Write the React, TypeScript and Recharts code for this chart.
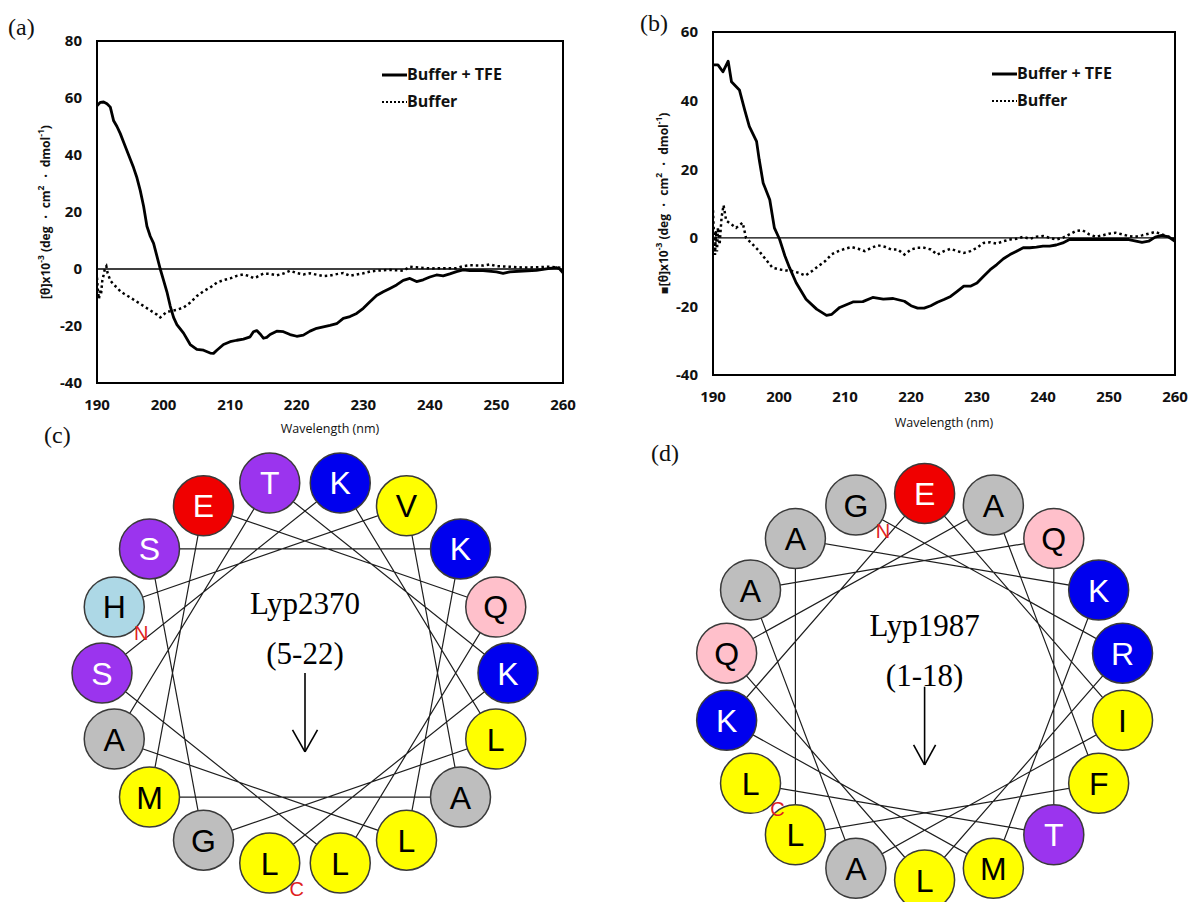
import React from 'react';
import {
  LineChart, Line, XAxis, YAxis, ReferenceLine, ReferenceArea, Legend, Label,
  ScatterChart, Scatter, ReferenceDot,
} from 'recharts';

// ---------------- Data: CD spectra ----------------
const wavelengthTicks = [190, 200, 210, 220, 230, 240, 250, 260];
const aYTicks = [-40, -20, 0, 20, 40, 60, 80];
const bYTicks = [-40, -20, 0, 20, 40, 60];
const seriesNames = ['Buffer + TFE', 'Buffer'];
const panelLetters = ['(a)', '(b)', '(c)', '(d)'];

// (a) Buffer + TFE
const aTfeWl = [190, 190.5, 191, 191.5, 192, 192.5, 193, 193.5, 194, 194.5, 195, 195.5, 196, 196.5, 197, 197.5, 198, 198.5, 199, 199.5, 200, 200.5, 201, 201.5, 202, 203, 204, 205, 206, 207, 207.5, 208, 209, 210, 211, 212, 213, 213.5, 214, 214.5, 215, 215.5, 216, 217, 218, 219, 220, 221, 222, 223, 224, 225, 226, 227, 228, 229, 230, 231, 232, 233, 234, 235, 236, 237, 238, 239, 240, 241, 242, 243, 244, 245, 246, 248, 250, 251, 252, 254, 256, 258, 259, 259.5, 260];
const aTfeTheta = [57.3, 58.5, 58.6, 58, 56.8, 52, 50, 47.5, 44.5, 41.5, 38.5, 35.5, 32, 27.5, 22, 15, 11.5, 9, 4.5, 0, -4, -8, -13, -17, -19.5, -22.5, -26.5, -28.2, -28.5, -29.5, -29.6, -28.5, -26.5, -25.5, -25, -24.6, -23.8, -22, -21.6, -22.8, -24.3, -24, -23, -21.8, -22, -23, -23.6, -23.2, -21.8, -20.8, -20.3, -19.8, -19.2, -17.3, -16.7, -15.6, -13.8, -11.5, -9.3, -8, -6.8, -5.6, -4, -3.3, -4.4, -3.8, -2.8, -2.1, -2.4, -1.7, -0.9, -0.3, -0.6, -0.6, -1, -1.5, -1, -0.7, -0.5, 0.2, 0.5, 0, -1.3];
// (a) Buffer
const aBufWl = [190, 190.15, 190.3, 190.45, 190.6, 190.8, 191, 191.2, 191.4, 191.6, 192, 192.5, 193, 193.5, 194, 195, 196, 197, 198, 199, 199.5, 200, 200.5, 201, 202, 203, 204, 205, 206, 207, 208, 209, 210, 211, 212, 213, 213.5, 214, 215, 216, 217, 218, 219, 220, 221, 222, 223, 224, 225, 226, 227, 228, 229, 230, 231, 232, 234, 236, 237, 238, 240, 242, 244, 245, 246, 248, 249, 250, 252, 254, 256, 258, 260];
const aBufTheta = [-3, -8, -10.5, -7, -9, -4, -2, 0.3, 1, -1.5, -4, -5.5, -6.5, -7.8, -8.6, -10, -11.5, -13, -14.5, -16, -17, -16, -15, -14.8, -14.3, -13.5, -11.8, -9.5, -7.8, -6.5, -4.8, -3.9, -3.3, -2.4, -1.9, -2.6, -3.2, -2.8, -1.6, -1.7, -2.2, -1.6, -0.6, -1.4, -1.9, -1.5, -2, -2.5, -2.3, -1.8, -1.4, -2.4, -1.9, -1.5, -0.9, -0.6, -0.3, -0.6, 0.8, 0.6, 0.2, 0.3, 0.3, 1, 1.3, 1.2, 1.6, 1, 0.8, 0.5, 0.6, 0.8, 0.3];

// (b) Buffer + TFE
const bTfeWl = [190, 190.75, 191.5, 192.3, 192.8, 194, 194.8, 195.5, 196.6, 197, 197.6, 198.6, 199.3, 200.1, 200.9, 201.6, 202.6, 204.1, 205.7, 207.2, 208, 209.2, 211.2, 212.7, 214.2, 215.8, 217.3, 219, 220, 221, 222, 223, 224, 225, 226, 227, 228, 229, 230, 231, 232, 233, 234, 235, 236, 237, 238, 239, 240, 241, 242, 243, 244, 245, 247, 249, 251, 253, 255, 256, 257, 258, 259, 260];
const bTfeTheta = [50.4, 50.4, 48.4, 51.5, 45.5, 43.1, 37.3, 32.5, 28.1, 22.8, 16, 11.1, 2.9, -0.5, -5.3, -8.7, -13.1, -17.9, -20.8, -22.6, -22.3, -20.3, -18.7, -18.6, -17.4, -17.9, -17.7, -18.5, -19.8, -20.5, -20.5, -19.8, -18.8, -18, -17.1, -15.6, -14.1, -14.1, -13.2, -11.2, -9.3, -7.8, -6.1, -4.9, -3.9, -2.9, -2.9, -2.7, -2.4, -2.4, -2.1, -1.5, -0.5, -0.5, -0.5, -0.5, -0.5, -0.5, -1.3, -1, 0.2, 0.7, 0.3, -1];
// (b) Buffer
const bBufWl = [190, 190.15, 190.3, 190.45, 190.6, 190.75, 191, 191.3, 191.6, 192, 192.8, 193.5, 194.5, 195, 196, 197, 198, 199, 200, 201, 202, 203, 204, 205, 206, 207, 208, 209, 210, 211, 212, 213, 214, 215, 216, 217, 218, 219, 220, 221, 222, 223, 224, 225, 226, 227, 228, 229, 230, 231, 232, 233, 234, 235, 236, 237, 238, 239, 240, 241, 242, 243, 244, 245, 246, 247, 248, 249, 250, 251, 252, 253, 254, 255, 256, 257, 258, 259, 260];
const bBufTheta = [8, 0, -5, 2, -4, 3, -2, 6, 9.5, 5, 3.9, 2.9, 4.4, 0, -1.9, -3.9, -6.3, -8.7, -9.2, -9.5, -9.7, -10.2, -11, -9.7, -8.2, -6.8, -4.8, -3.9, -3.2, -2.7, -3.2, -3.9, -2.9, -2.2, -2.6, -3.4, -3.4, -4.9, -3.4, -2.9, -2.9, -3.4, -4.9, -3.9, -3.2, -3.9, -4.4, -3.9, -2.9, -1.5, -1.3, -1.7, -1, -0.5, -0.3, 0.3, -0.3, 0.3, 0.5, 0, -0.5, 0, 1, 2, 2.2, 1, 0.3, 0.7, 1.2, 1.5, 1, 0.5, 0.3, 0.7, 1.2, 1.7, 1, 0.3, -0.5];

// ---------------- Data: helical wheels ----------------
const wheelCSequence = ['H', 'V', 'A', 'M', 'E', 'Q', 'L', 'S', 'K', 'L', 'G', 'S', 'K', 'L', 'A', 'T', 'K', 'L'];
const wheelCName = 'Lyp2370';
const wheelCRange = '(5-22)';
const wheelDSequence = ['G', 'R', 'L', 'Q', 'A', 'F', 'L', 'A', 'K', 'M', 'K', 'E', 'I', 'A', 'A', 'Q', 'T', 'L'];
const wheelDName = 'Lyp1987';
const wheelDRange = '(1-18)';
const terminusLabels = ['N', 'C'];

// ---------------- Styles ----------------
const SANS = "'Open Sans', 'DejaVu Sans', sans-serif";
const SERIF = "'Liberation Serif', 'DejaVu Serif', serif";
const ARIAL = "'Liberation Sans', Arial, sans-serif";
const residueStyle: Record<string, { fill: string; text: string }> = {
  S: { fill: '#9b34ee', text: '#ffffff' }, T: { fill: '#9b34ee', text: '#ffffff' },
  K: { fill: '#0000ee', text: '#ffffff' }, R: { fill: '#0000ee', text: '#ffffff' },
  E: { fill: '#f00000', text: '#ffffff' },
  H: { fill: '#add8e6', text: '#000000' },
  Q: { fill: '#ffc0cb', text: '#000000' },
  A: { fill: '#bebebe', text: '#000000' }, G: { fill: '#bebebe', text: '#000000' },
  L: { fill: '#ffff00', text: '#000000' }, V: { fill: '#ffff00', text: '#000000' },
  M: { fill: '#ffff00', text: '#000000' }, I: { fill: '#ffff00', text: '#000000' },
  F: { fill: '#ffff00', text: '#000000' },
};

const zip = (xs: number[], ys: number[]) => xs.map((x, i) => ({ x, y: ys[i] }));

const YTitle = ({ viewBox, dx, marker }: any) => {
  const x = viewBox.x + dx;
  const y = viewBox.y + viewBox.height / 2;
  const sup = { fontSize: 8.5 };
  return (
    <text x={x} y={y} transform={`rotate(-90 ${x} ${y})`} textAnchor="middle" dominantBaseline="central"
      fontFamily={SANS} fontWeight={700} fontSize={12} fill="#111">
      {marker ? '▪' : ''}[θ]x10<tspan dy={-5} {...sup}>-3</tspan><tspan dy={5}> (deg ・ cm</tspan>
      <tspan dy={-5} {...sup}>2</tspan><tspan dy={5}> ・ dmol</tspan><tspan dy={-5} {...sup}>-1</tspan>
      <tspan dy={5}>)</tspan>
    </text>
  );
};

const XTitle = ({ viewBox, dy }: any) => (
  <text x={viewBox.x + viewBox.width / 2} y={viewBox.y + dy} textAnchor="middle" dominantBaseline="central"
    fontFamily={SANS} fontSize={12.5} fill="#111">Wavelength (nm)</text>
);

const LegendBox = () => (
  <div style={{ fontFamily: SANS, fontWeight: 700, fontSize: 16, color: '#111', lineHeight: '27px' }}>
    {seriesNames.map((name, i) => (
      <div key={name} style={{ display: 'flex', alignItems: 'center', height: 27 }}>
        <svg width={25} height={6} style={{ display: 'block' }}>
          <line x1={0} x2={25} y1={3} y2={3} stroke="#000" strokeWidth={i === 0 ? 3 : 2.2}
            strokeDasharray={i === 0 ? undefined : '2 2'} />
        </svg>
        <span>{name}</span>
      </div>
    ))}
  </div>
);

const CDPanel = (p: any) => {
  const tfe = zip(p.tfeWl, p.tfeTheta);
  const buf = zip(p.bufWl, p.bufTheta);
  const tick = { fontSize: 15, fontFamily: SANS, fontWeight: 700, fill: '#111' };
  return (
    <div style={{ position: 'absolute', left: p.left, top: p.top }}>
      <LineChart width={p.width} height={p.height} margin={p.margin}>
        <XAxis type="number" dataKey="x" domain={[190, 260]} ticks={wavelengthTicks} allowDataOverflow
          axisLine={false} tickLine={false} tickSize={0} tickMargin={16} tick={tick} height={30} interval={0}>
          <Label content={(lp: any) => <XTitle viewBox={lp.viewBox} dy={p.xTitleDy} />} />
        </XAxis>
        <YAxis type="number" dataKey="y" domain={p.yDomain} ticks={p.yTicks} allowDataOverflow width={p.yAxisWidth}
          axisLine={false} tickLine={false} tickSize={0} tickMargin={15} tick={tick} interval={0}>
          <Label content={(lp: any) => <YTitle viewBox={lp.viewBox} dx={p.yTitleDx} marker={p.marker} />} />
        </YAxis>
        <ReferenceArea x1={190} x2={260} y1={p.yDomain[0]} y2={p.yDomain[1]} fill="none" fillOpacity={0}
          stroke="#000" strokeWidth={2} />
        <ReferenceLine y={0} stroke="#000" strokeWidth={1.3} />
        <Line data={buf} dataKey="y" name={seriesNames[1]} type="linear" stroke="#000" strokeWidth={2.5}
          strokeDasharray="2.5 3" dot={false} isAnimationActive={false} />
        <Line data={tfe} dataKey="y" name={seriesNames[0]} type="linear" stroke="#000" strokeWidth={2.8}
          dot={false} isAnimationActive={false} strokeLinejoin="round" />
        <Legend layout="vertical" align="center" verticalAlign="middle" content={() => <LegendBox />}
          wrapperStyle={{ position: 'absolute', left: p.legendLeft, top: p.legendTop, width: 170, height: 54 }} />
      </LineChart>
    </div>
  );
};

const residueStep = 100;

const WheelPanel = (p: any) => {
  const pts = p.sequence.map((aa: string, i: number) => {
    const ang = ((p.startAngle + residueStep * i) * Math.PI) / 180;
    return { x: Math.sin(ang), y: Math.cos(ang), aa, i };
  });
  const ends = [
    { ...pts[0], tag: terminusLabels[0] },
    { ...pts[pts.length - 1], tag: terminusLabels[1] },
  ];
  const xDomain = [-p.cx / p.rx, (p.width - p.cx) / p.rx];
  const yDomain = [-(p.height - p.cy) / p.ry, p.cy / p.ry];
  const R = 30;
  const ResidueShape = (s: any) => {
    const st = residueStyle[s.payload.aa];
    return (
      <g>
        <circle cx={s.cx} cy={s.cy} r={R} fill={st.fill} stroke="#3a3a3a" strokeWidth={1.5} />
        <text x={s.cx} y={s.cy + 11.5} textAnchor="middle" fontFamily={ARIAL} fontSize={32} fill={st.text}>
          {s.payload.aa}
        </text>
      </g>
    );
  };
  const TagShape = (s: any) => (
    <text x={s.cx + 27} y={s.cy + 33} textAnchor="middle" fontFamily={ARIAL} fontSize={20} fill="#e02020">
      {s.payload.tag}
    </text>
  );
  const hw = p.headW / p.rx;
  const hh = p.headH / p.ry;
  const ab = p.arrowBottom;
  return (
    <div style={{ position: 'absolute', left: p.left, top: p.top }}>
      <ScatterChart width={p.width} height={p.height} margin={{ top: 0, right: 0, bottom: 0, left: 0 }}>
        <XAxis type="number" dataKey="x" domain={xDomain} hide allowDataOverflow />
        <YAxis type="number" dataKey="y" domain={yDomain} hide allowDataOverflow />
        <Scatter data={pts} line={{ stroke: '#1e1e1e', strokeWidth: 1.2 }} shape={() => <g />}
          isAnimationActive={false} />
        <Scatter data={pts} shape={ResidueShape} isAnimationActive={false} />
        <Scatter data={ends} shape={TagShape} isAnimationActive={false} />
        <ReferenceDot x={0} y={p.nameY} r={0} fill="none" stroke="none"
          label={{ value: p.name, position: 'center', fontSize: 31, fontFamily: SERIF, fill: '#000' }} />
        <ReferenceDot x={0} y={p.rangeY} r={0} fill="none" stroke="none"
          label={{ value: p.range, position: 'center', fontSize: 31, fontFamily: SERIF, fill: '#000' }} />
        <ReferenceLine segment={[{ x: 0, y: p.arrowTop }, { x: 0, y: ab }]} stroke="#000" strokeWidth={1.6} />
        <ReferenceLine segment={[{ x: -hw, y: ab + hh }, { x: 0, y: ab }]} stroke="#000" strokeWidth={1.6} />
        <ReferenceLine segment={[{ x: hw, y: ab + hh }, { x: 0, y: ab }]} stroke="#000" strokeWidth={1.6} />
      </ScatterChart>
    </div>
  );
};

const letterStyle: React.CSSProperties = {
  position: 'absolute', fontFamily: SERIF, fontSize: 24, lineHeight: '28px', color: '#111',
};

export default function App() {
  return (
    <div style={{ position: 'absolute', left: 0, top: 0, width: 1190, height: 902, background: '#fff', overflow: 'hidden' }}>
      <CDPanel left={0} top={0} width={600} height={450}
        margin={{ top: 41, right: 37, bottom: 37, left: 40 }} yAxisWidth={57}
        yDomain={[-40, 80]} yTicks={aYTicks}
        tfeWl={aTfeWl} tfeTheta={aTfeTheta} bufWl={aBufWl} bufTheta={aBufTheta}
        xTitleDy={45} yTitleDx={5} legendLeft={382} legendTop={61} />
      <CDPanel left={620} top={0} width={570} height={450}
        margin={{ top: 32, right: 15, bottom: 45, left: 40 }} yAxisWidth={53}
        yDomain={[-40, 60]} yTicks={bYTicks} marker
        tfeWl={bTfeWl} tfeTheta={bTfeTheta} bufWl={bBufWl} bufTheta={bBufTheta}
        xTitleDy={47} yTitleDx={3} legendLeft={372} legendTop={60} />
      <WheelPanel left={60} top={440} width={500} height={462} cx={245} cy={233} rx={203} ry={193}
        sequence={wheelCSequence} startAngle={290} name={wheelCName} range={wheelCRange}
        nameY={0.363} rangeY={0.104} arrowTop={0} arrowBottom={-0.409} headW={12.5} headH={22} />
      <WheelPanel left={660} top={440} width={530} height={462} cx={264.6} cy={246.7} rx={201} ry={193.3}
        sequence={wheelDSequence} startAngle={340} name={wheelDName} range={wheelDRange}
        nameY={0.319} rangeY={0.06} arrowTop={0} arrowBottom={-0.405} headW={11} headH={20} />
      <div style={{ ...letterStyle, left: 8, top: 13 }}>{panelLetters[0]}</div>
      <div style={{ ...letterStyle, left: 640, top: 9 }}>{panelLetters[1]}</div>
      <div style={{ ...letterStyle, left: 44, top: 421 }}>{panelLetters[2]}</div>
      <div style={{ ...letterStyle, left: 651, top: 439 }}>{panelLetters[3]}</div>
    </div>
  );
}
